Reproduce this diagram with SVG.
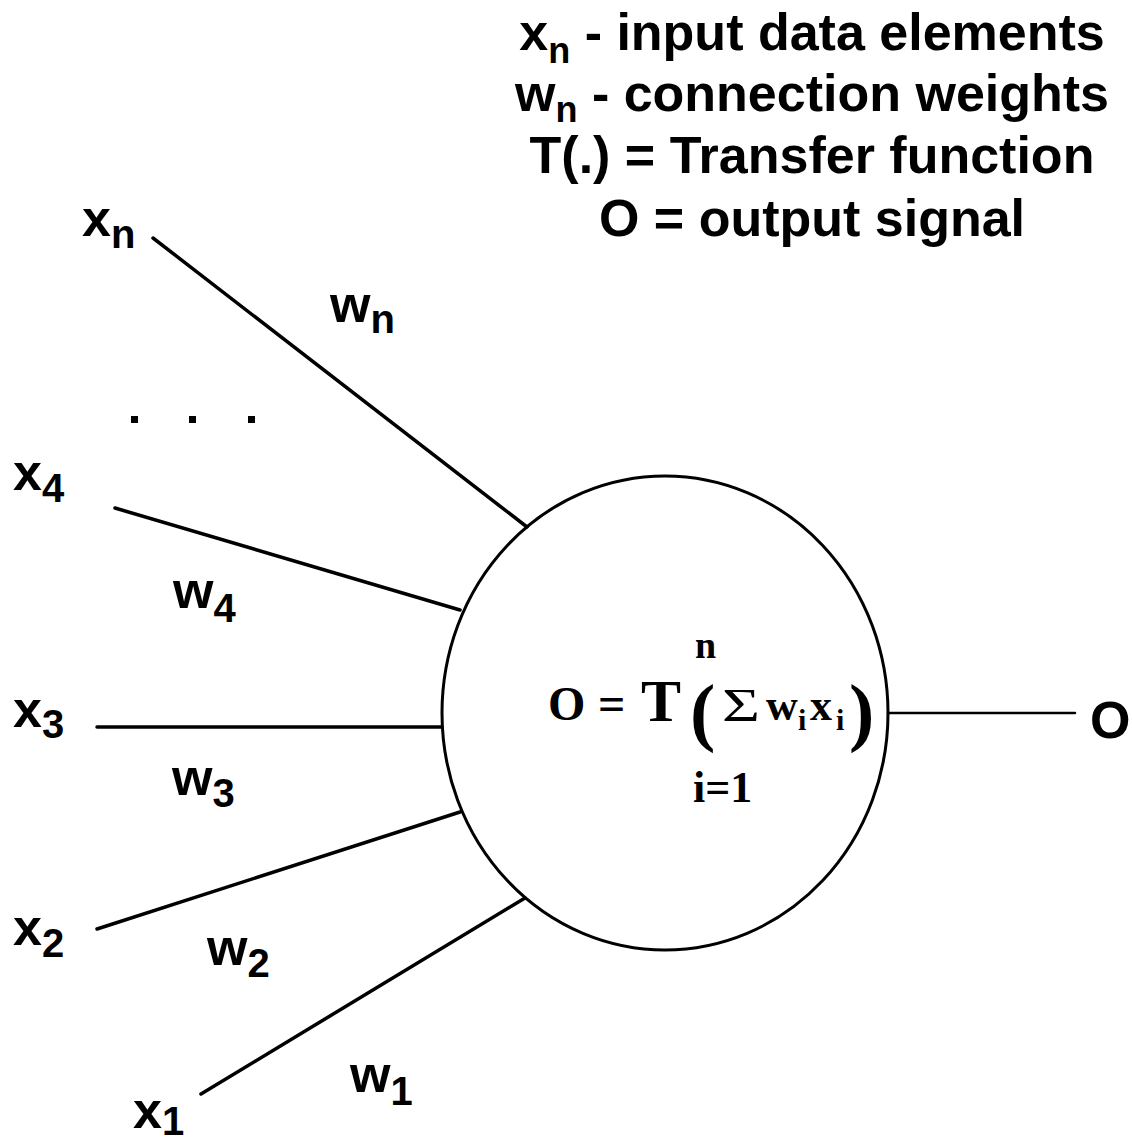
<svg xmlns="http://www.w3.org/2000/svg" width="1132" height="1145" viewBox="0 0 1132 1145">
<style>
.lbl{font-family:"Liberation Sans",Arial,sans-serif;font-weight:bold;font-size:52px;fill:#000}
.sub{font-size:40px}
.leg{font-family:"Liberation Sans",Arial,sans-serif;font-weight:bold;font-size:52px;fill:#000;text-anchor:middle}
.lsub{font-size:36px}
.f{font-family:"Liberation Serif","Times New Roman",serif;font-weight:bold;fill:#000}
.thin{font-weight:normal}
.edge{stroke:#000;stroke-width:3.5;fill:none;stroke-linecap:round}
</style>
<rect width="1132" height="1145" fill="#fff"/>
<g id="legend">
<text class="leg" x="812" y="50">x<tspan class="lsub" dy="13">n</tspan><tspan dy="-13"> - input data elements</tspan></text>
<text class="leg" x="812" y="111">w<tspan class="lsub" dy="11">n</tspan><tspan dy="-11"> - connection weights</tspan></text>
<text class="leg" x="812" y="173">T(.) = Transfer function</text>
<text class="leg" x="812" y="236">O = output signal</text>
</g>
<g id="connectors">
<line class="edge" x1="153" y1="238" x2="527" y2="527"/>
<line class="edge" x1="115" y1="508" x2="460" y2="610"/>
<line class="edge" x1="97" y1="727" x2="442" y2="727"/>
<line class="edge" x1="97" y1="929" x2="460" y2="812"/>
<line class="edge" x1="201" y1="1094" x2="525" y2="898"/>
<line class="edge" x1="888" y1="713" x2="1075" y2="713" style="stroke-width:2.5"/>
</g>
<g id="dots">
<rect x="131" y="416" width="7" height="7"/>
<rect x="189" y="416" width="7" height="7"/>
<rect x="248" y="416" width="7" height="7"/>
</g>
<g id="neuron">
<ellipse cx="665" cy="713" rx="223" ry="237" fill="none" stroke="#000" stroke-width="3"/>
<text class="f" x="695" y="658" font-size="38">n</text>
<text class="f" x="548" y="720" font-size="48">O</text>
<text class="f" x="598" y="720" font-size="48">=</text>
<text class="f" x="641" y="721" font-size="60">T</text>
<text class="f" x="690" y="737" font-size="76">(</text>
<text class="f thin" x="722" y="721" font-size="46" textLength="38" lengthAdjust="spacingAndGlyphs">Σ</text>
<text class="f" x="766" y="720" font-size="44">w</text>
<text class="f" x="798" y="730" font-size="30">i</text>
<text class="f" x="810" y="720" font-size="44">x</text>
<text class="f" x="836" y="730" font-size="30">i</text>
<text class="f" x="849" y="737" font-size="76">)</text>
<text class="f" x="693" y="802" font-size="44">i=1</text>
</g>
<g id="x_n"><text class="lbl" x="82" y="236" font-size="46">x<tspan class="sub" dy="12">n</tspan></text></g>
<g id="w_n"><text class="lbl" x="330" y="322">w<tspan class="sub" dy="11">n</tspan></text></g>
<g id="x_4"><text class="lbl" x="13" y="490">x<tspan class="sub" dy="12">4</tspan></text></g>
<g id="w_4"><text class="lbl" x="173" y="608">w<tspan class="sub" dy="14">4</tspan></text></g>
<g id="x_3"><text class="lbl" x="13" y="727">x<tspan class="sub" dy="11">3</tspan></text></g>
<g id="w_3"><text class="lbl" x="172" y="795">w<tspan class="sub" dy="12">3</tspan></text></g>
<g id="x_2"><text class="lbl" x="13" y="945">x<tspan class="sub" dy="12">2</tspan></text></g>
<g id="w_2"><text class="lbl" x="207" y="965">w<tspan class="sub" dy="12">2</tspan></text></g>
<g id="x_1"><text class="lbl" x="133" y="1128">x<tspan class="sub" dy="7">1</tspan></text></g>
<g id="w_1"><text class="lbl" x="350" y="1092">w<tspan class="sub" dy="13">1</tspan></text></g>
<g id="output"><text class="lbl" x="1090" y="738" font-size="53">O</text></g>
</svg>
